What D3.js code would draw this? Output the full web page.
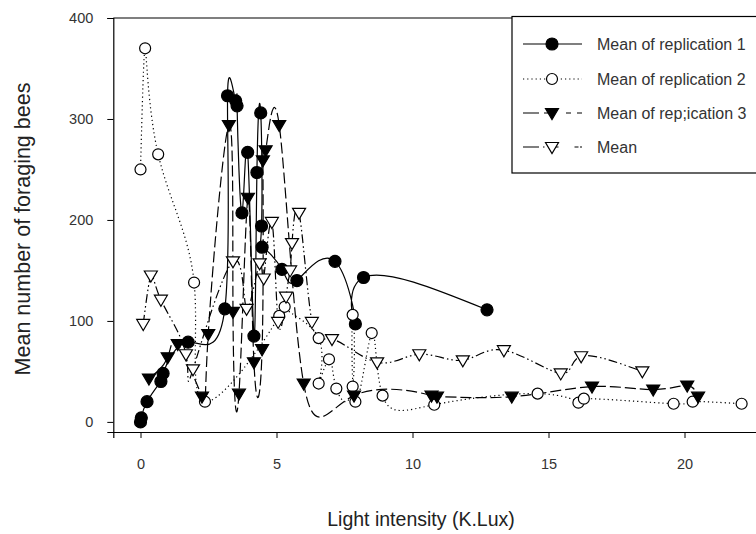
<!doctype html>
<html>
<head>
<script src="https://d3js.org/d3.v7.min.js"></script>
<style>
body { margin: 0; background: #fff; }
text { font-family: "Liberation Sans", Arial, sans-serif; }
</style>
</head>
<body>
<svg width="756" height="534"></svg>
<script>
// light intensity (K.Lux) and mean foraging bees
var rep1X = [0, 0.03, 0.24, 0.75, 0.83, 1.75, 3.1, 3.2, 3.5, 3.55, 3.73, 3.94, 4.17, 4.28, 4.42, 4.45, 4.47, 5.2, 5.75, 7.15, 7.9, 8.2, 12.74];
var rep1Y = [0, 4, 20, 40, 48, 79, 112, 323, 318, 313, 207, 267, 85, 247, 306, 194, 173, 151, 140, 159, 97, 143, 111];

var rep2X = [0, 0.17, 0.65, 1.97, 2.37, 5.1, 5.3, 6.55, 6.55, 6.93, 7.2, 7.8, 7.8, 7.9, 8.5, 8.9, 10.8, 14.6, 16.1, 16.3, 19.6, 20.3, 22.1];
var rep2Y = [250, 370, 265, 138, 20, 105, 114, 83, 38, 62, 33, 35, 106, 20, 88, 26, 17, 28, 19, 23, 18, 20, 18];

var rep3X = [0.31, 1.0, 1.37, 2.26, 2.49, 3.25, 3.4, 3.62, 3.95, 4.17, 4.47, 4.5, 4.6, 5.1, 6.0, 7.85, 10.7, 10.9, 13.65, 16.6, 18.85, 20.1, 20.5];
var rep3Y = [43, 64, 77, 25, 87, 294, 109, 28, 222, 59, 72, 259, 269, 294, 38, 26, 26, 25, 25, 35, 32, 36, 25];

var meanX = [0.1, 0.38, 0.75, 1.67, 1.93, 3.4, 3.9, 4.38, 4.53, 4.83, 5.06, 5.35, 5.5, 5.57, 5.83, 6.3, 7.04, 8.7, 10.25, 11.85, 13.36, 15.45, 16.2, 18.45];
var meanY = [97, 145, 121, 67, 52, 159, 112, 157, 142, 198, 99, 124, 150, 177, 207, 99, 82, 59, 67, 61, 71, 48, 65, 50];

var seriesNames = ["Mean of replication 1", "Mean of replication 2", "Mean of rep;ication 3", "Mean"];
var xTicks = [0, 5, 10, 15, 20];
var yTicks = [0, 100, 200, 300, 400];

var svg = d3.select("svg");

var x = d3.scaleLinear().domain([-1, 23]).range([113.3, 766.1]);
var y = d3.scaleLinear().domain([-10, 400]).range([432, 18]);

function pts(xs, ys) {
  return xs.map(function (d, i) { return [d, ys[i]]; });
}

var series = [
  { data: pts(rep1X, rep1Y), dash: null, marker: "circle", fill: "#000" },
  { data: pts(rep2X, rep2Y), dash: "1.2,3", marker: "circle", fill: "#fff" },
  { data: pts(rep3X, rep3Y), dash: "11,4", marker: "tri", fill: "#000" },
  { data: pts(meanX, meanY), dash: "9,3,1.5,3,1.5,3", marker: "tri", fill: "#fff" }
];

// axes
var gx = svg.append("g")
  .attr("transform", "translate(0,432)")
  .call(d3.axisBottom(x).tickValues(xTicks).tickSize(6).tickPadding(21));
var gy = svg.append("g")
  .attr("transform", "translate(113.3,0)")
  .call(d3.axisLeft(y).tickValues(yTicks).tickSize(6).tickPadding(14));
[gx, gy].forEach(function (g) {
  g.select(".domain").attr("stroke", "#000").attr("stroke-width", 1.2);
  g.selectAll(".tick line").attr("stroke", "#000");
  g.selectAll(".tick text").attr("fill", "#333").style("font-size", "14.5px");
});

// top spine
svg.append("line")
  .attr("x1", x(-1)).attr("x2", x(23))
  .attr("y1", y(400)).attr("y2", y(400))
  .attr("stroke", "#000").attr("stroke-width", 1.2);

var line = d3.line()
  .x(function (d) { return x(d[0]); })
  .y(function (d) { return y(d[1]); })
  .curve(d3.curveNatural);

var tri = "M-6.5,-4.5L6.5,-4.5L0,6.5Z";

function drawMarker(sel, s) {
  if (s.marker === "circle") {
    sel.append("circle").attr("r", s.fill === "#000" ? 6 : 5.5)
      .attr("fill", s.fill).attr("stroke", "#000").attr("stroke-width", 1.2);
  } else {
    sel.append("path").attr("d", tri)
      .attr("fill", s.fill).attr("stroke", "#000").attr("stroke-width", 1.2);
  }
}

series.forEach(function (s) {
  svg.append("path")
    .datum(s.data)
    .attr("d", line)
    .attr("fill", "none")
    .attr("stroke", "#000")
    .attr("stroke-width", 1.2)
    .attr("stroke-dasharray", s.dash);
});

series.forEach(function (s) {
  svg.append("g").selectAll("g")
    .data(s.data)
    .enter()
    .append("g")
    .attr("transform", function (d) { return "translate(" + x(d[0]) + "," + y(d[1]) + ")"; })
    .each(function () { drawMarker(d3.select(this), s); });
});

// legend
var legend = svg.append("g");
legend.append("rect")
  .attr("x", 512).attr("y", 16.5).attr("width", 260).attr("height", 156.5)
  .attr("fill", "#fff").attr("stroke", "#000").attr("stroke-width", 1.2);

var legendY = [44, 79, 113, 147];
var legendDash = [null, "1.2,3", "16,5,6", "16,4,1.5,4,10"];
seriesNames.forEach(function (name, i) {
  var s = series[i];
  legend.append("line")
    .attr("x1", 523).attr("x2", 582)
    .attr("y1", legendY[i]).attr("y2", legendY[i])
    .attr("stroke", "#000").attr("stroke-width", 1.2)
    .attr("stroke-dasharray", legendDash[i]);
  var m = legend.append("g").attr("transform", "translate(552," + legendY[i] + ")");
  drawMarker(m, s);
  legend.append("text")
    .attr("x", 597).attr("y", legendY[i]).attr("dy", "0.35em")
    .attr("fill", "#333").style("font-size", "16px")
    .text(name);
});

// axis titles
svg.append("text")
  .attr("x", 421).attr("y", 526)
  .attr("text-anchor", "middle")
  .attr("fill", "#222").style("font-size", "19.5px")
  .text("Light intensity (K.Lux)");

svg.append("text")
  .attr("transform", "translate(30,229)rotate(-90)")
  .attr("text-anchor", "middle")
  .attr("fill", "#222").style("font-size", "21.5px")
  .text("Mean number of foraging bees");
</script>
</body>
</html>
